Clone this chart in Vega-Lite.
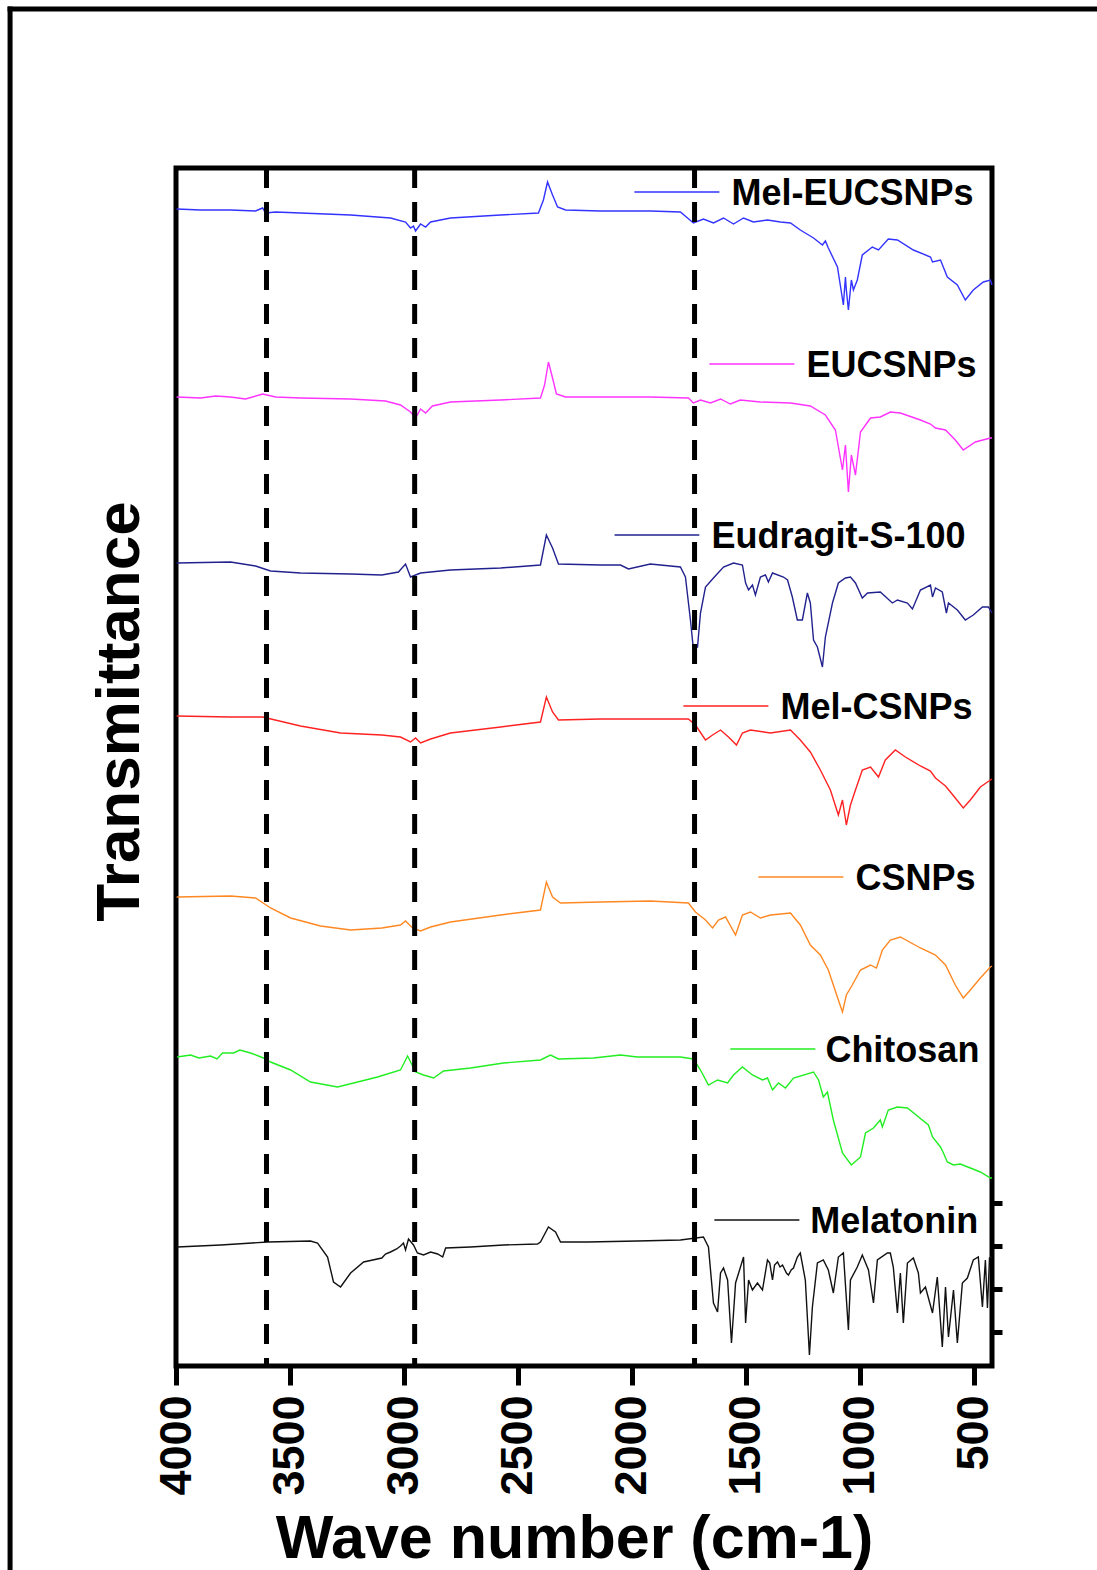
{
"$schema": "https://vega.github.io/schema/vega-lite/v6.json",
"width": 816, "height": 1198,
"autosize": {"type": "none"},
"padding": {"left": 176, "top": 168, "right": 105, "bottom": 204},
"background": "white",
"config": {"view": {"stroke": "black", "strokeWidth": 5}, "font": "Liberation Sans"},
"datasets": {
"spectra": [
{"s":"Mel-EUCSNPs","w":3997,"t":115.4},{"s":"Mel-EUCSNPs","w":3892,"t":115.3},{"s":"Mel-EUCSNPs","w":3761,"t":115.3},{"s":"Mel-EUCSNPs","w":3651,"t":115.2},{"s":"Mel-EUCSNPs","w":3620,"t":115.5},{"s":"Mel-EUCSNPs","w":3607,"t":115.0},{"s":"Mel-EUCSNPs","w":3563,"t":115.1},{"s":"Mel-EUCSNPs","w":3454,"t":115.0},{"s":"Mel-EUCSNPs","w":3234,"t":114.8},{"s":"Mel-EUCSNPs","w":3059,"t":114.5},{"s":"Mel-EUCSNPs","w":2993,"t":114.1},{"s":"Mel-EUCSNPs","w":2971,"t":113.5},{"s":"Mel-EUCSNPs","w":2958,"t":113.7},{"s":"Mel-EUCSNPs","w":2949,"t":113.2},{"s":"Mel-EUCSNPs","w":2927,"t":113.9},{"s":"Mel-EUCSNPs","w":2905,"t":113.6},{"s":"Mel-EUCSNPs","w":2883,"t":114.1},{"s":"Mel-EUCSNPs","w":2796,"t":114.5},{"s":"Mel-EUCSNPs","w":2576,"t":114.8},{"s":"Mel-EUCSNPs","w":2410,"t":115.0},{"s":"Mel-EUCSNPs","w":2388,"t":116.3},{"s":"Mel-EUCSNPs","w":2370,"t":118.1},{"s":"Mel-EUCSNPs","w":2348,"t":116.8},{"s":"Mel-EUCSNPs","w":2326,"t":115.6},{"s":"Mel-EUCSNPs","w":2291,"t":115.3},{"s":"Mel-EUCSNPs","w":2138,"t":115.2},{"s":"Mel-EUCSNPs","w":1919,"t":115.2},{"s":"Mel-EUCSNPs","w":1787,"t":115.1},{"s":"Mel-EUCSNPs","w":1730,"t":114.0},{"s":"Mel-EUCSNPs","w":1686,"t":114.4},{"s":"Mel-EUCSNPs","w":1642,"t":114.0},{"s":"Mel-EUCSNPs","w":1598,"t":114.5},{"s":"Mel-EUCSNPs","w":1554,"t":113.9},{"s":"Mel-EUCSNPs","w":1510,"t":114.5},{"s":"Mel-EUCSNPs","w":1467,"t":114.1},{"s":"Mel-EUCSNPs","w":1405,"t":114.3},{"s":"Mel-EUCSNPs","w":1348,"t":114.1},{"s":"Mel-EUCSNPs","w":1304,"t":114.0},{"s":"Mel-EUCSNPs","w":1261,"t":113.3},{"s":"Mel-EUCSNPs","w":1203,"t":112.5},{"s":"Mel-EUCSNPs","w":1164,"t":111.8},{"s":"Mel-EUCSNPs","w":1151,"t":112.2},{"s":"Mel-EUCSNPs","w":1138,"t":111.5},{"s":"Mel-EUCSNPs","w":1098,"t":109.6},{"s":"Mel-EUCSNPs","w":1072,"t":105.8},{"s":"Mel-EUCSNPs","w":1063,"t":108.6},{"s":"Mel-EUCSNPs","w":1059,"t":107.3},{"s":"Mel-EUCSNPs","w":1050,"t":105.3},{"s":"Mel-EUCSNPs","w":1037,"t":108.3},{"s":"Mel-EUCSNPs","w":1028,"t":107.3},{"s":"Mel-EUCSNPs","w":1011,"t":108.3},{"s":"Mel-EUCSNPs","w":989,"t":110.8},{"s":"Mel-EUCSNPs","w":945,"t":111.6},{"s":"Mel-EUCSNPs","w":918,"t":111.3},{"s":"Mel-EUCSNPs","w":875,"t":112.4},{"s":"Mel-EUCSNPs","w":835,"t":112.3},{"s":"Mel-EUCSNPs","w":765,"t":111.3},{"s":"Mel-EUCSNPs","w":690,"t":110.6},{"s":"Mel-EUCSNPs","w":681,"t":110.1},{"s":"Mel-EUCSNPs","w":646,"t":110.3},{"s":"Mel-EUCSNPs","w":616,"t":108.6},{"s":"Mel-EUCSNPs","w":572,"t":107.8},{"s":"Mel-EUCSNPs","w":537,"t":106.3},{"s":"Mel-EUCSNPs","w":502,"t":107.3},{"s":"Mel-EUCSNPs","w":458,"t":108.1},{"s":"Mel-EUCSNPs","w":427,"t":108.3},{"s":"Mel-EUCSNPs","w":420,"t":107.8},
{"s":"EUCSNPs","w":3997,"t":96.6},{"s":"EUCSNPs","w":3892,"t":96.5},{"s":"EUCSNPs","w":3826,"t":96.7},{"s":"EUCSNPs","w":3761,"t":96.6},{"s":"EUCSNPs","w":3695,"t":96.4},{"s":"EUCSNPs","w":3620,"t":96.9},{"s":"EUCSNPs","w":3563,"t":96.6},{"s":"EUCSNPs","w":3454,"t":96.5},{"s":"EUCSNPs","w":3234,"t":96.4},{"s":"EUCSNPs","w":3081,"t":96.2},{"s":"EUCSNPs","w":3015,"t":95.8},{"s":"EUCSNPs","w":2971,"t":95.1},{"s":"EUCSNPs","w":2949,"t":94.5},{"s":"EUCSNPs","w":2927,"t":95.4},{"s":"EUCSNPs","w":2905,"t":95.0},{"s":"EUCSNPs","w":2875,"t":95.7},{"s":"EUCSNPs","w":2796,"t":96.1},{"s":"EUCSNPs","w":2576,"t":96.3},{"s":"EUCSNPs","w":2401,"t":96.5},{"s":"EUCSNPs","w":2383,"t":97.8},{"s":"EUCSNPs","w":2366,"t":100.1},{"s":"EUCSNPs","w":2348,"t":98.5},{"s":"EUCSNPs","w":2331,"t":96.9},{"s":"EUCSNPs","w":2291,"t":96.6},{"s":"EUCSNPs","w":2138,"t":96.6},{"s":"EUCSNPs","w":1919,"t":96.6},{"s":"EUCSNPs","w":1752,"t":96.5},{"s":"EUCSNPs","w":1730,"t":96.0},{"s":"EUCSNPs","w":1699,"t":96.3},{"s":"EUCSNPs","w":1655,"t":96.0},{"s":"EUCSNPs","w":1611,"t":96.4},{"s":"EUCSNPs","w":1568,"t":95.9},{"s":"EUCSNPs","w":1524,"t":96.3},{"s":"EUCSNPs","w":1436,"t":96.1},{"s":"EUCSNPs","w":1304,"t":96.0},{"s":"EUCSNPs","w":1217,"t":95.7},{"s":"EUCSNPs","w":1151,"t":94.8},{"s":"EUCSNPs","w":1107,"t":93.3},{"s":"EUCSNPs","w":1076,"t":89.3},{"s":"EUCSNPs","w":1063,"t":91.8},{"s":"EUCSNPs","w":1050,"t":87.1},{"s":"EUCSNPs","w":1037,"t":90.8},{"s":"EUCSNPs","w":1019,"t":88.8},{"s":"EUCSNPs","w":997,"t":93.1},{"s":"EUCSNPs","w":953,"t":94.5},{"s":"EUCSNPs","w":910,"t":94.6},{"s":"EUCSNPs","w":866,"t":95.1},{"s":"EUCSNPs","w":822,"t":95.0},{"s":"EUCSNPs","w":734,"t":94.3},{"s":"EUCSNPs","w":690,"t":93.9},{"s":"EUCSNPs","w":668,"t":93.5},{"s":"EUCSNPs","w":624,"t":93.3},{"s":"EUCSNPs","w":581,"t":92.3},{"s":"EUCSNPs","w":546,"t":91.3},{"s":"EUCSNPs","w":493,"t":92.1},{"s":"EUCSNPs","w":427,"t":92.5},{"s":"EUCSNPs","w":420,"t":92.5},
{"s":"Eudragit-S-100","w":3997,"t":80.0},{"s":"Eudragit-S-100","w":3761,"t":80.1},{"s":"Eudragit-S-100","w":3651,"t":79.7},{"s":"Eudragit-S-100","w":3585,"t":79.2},{"s":"Eudragit-S-100","w":3454,"t":79.0},{"s":"Eudragit-S-100","w":3234,"t":78.9},{"s":"Eudragit-S-100","w":3097,"t":78.8},{"s":"Eudragit-S-100","w":3024,"t":79.1},{"s":"Eudragit-S-100","w":2993,"t":79.9},{"s":"Eudragit-S-100","w":2971,"t":78.6},{"s":"Eudragit-S-100","w":2927,"t":79.0},{"s":"Eudragit-S-100","w":2796,"t":79.3},{"s":"Eudragit-S-100","w":2576,"t":79.5},{"s":"Eudragit-S-100","w":2401,"t":79.8},{"s":"Eudragit-S-100","w":2375,"t":82.8},{"s":"Eudragit-S-100","w":2348,"t":81.5},{"s":"Eudragit-S-100","w":2322,"t":79.9},{"s":"Eudragit-S-100","w":2138,"t":79.8},{"s":"Eudragit-S-100","w":2050,"t":79.8},{"s":"Eudragit-S-100","w":2015,"t":79.4},{"s":"Eudragit-S-100","w":1919,"t":79.9},{"s":"Eudragit-S-100","w":1787,"t":79.6},{"s":"Eudragit-S-100","w":1765,"t":78.6},{"s":"Eudragit-S-100","w":1743,"t":74.3},{"s":"Eudragit-S-100","w":1731,"t":71.6},{"s":"Eudragit-S-100","w":1712,"t":71.6},{"s":"Eudragit-S-100","w":1699,"t":75.0},{"s":"Eudragit-S-100","w":1677,"t":77.6},{"s":"Eudragit-S-100","w":1642,"t":78.5},{"s":"Eudragit-S-100","w":1598,"t":79.6},{"s":"Eudragit-S-100","w":1554,"t":80.0},{"s":"Eudragit-S-100","w":1515,"t":79.8},{"s":"Eudragit-S-100","w":1501,"t":78.0},{"s":"Eudragit-S-100","w":1488,"t":77.3},{"s":"Eudragit-S-100","w":1471,"t":77.8},{"s":"Eudragit-S-100","w":1458,"t":76.8},{"s":"Eudragit-S-100","w":1436,"t":78.6},{"s":"Eudragit-S-100","w":1414,"t":78.8},{"s":"Eudragit-S-100","w":1401,"t":78.1},{"s":"Eudragit-S-100","w":1383,"t":79.0},{"s":"Eudragit-S-100","w":1335,"t":78.6},{"s":"Eudragit-S-100","w":1317,"t":78.3},{"s":"Eudragit-S-100","w":1296,"t":76.6},{"s":"Eudragit-S-100","w":1274,"t":74.3},{"s":"Eudragit-S-100","w":1252,"t":74.3},{"s":"Eudragit-S-100","w":1230,"t":77.0},{"s":"Eudragit-S-100","w":1217,"t":76.0},{"s":"Eudragit-S-100","w":1203,"t":72.3},{"s":"Eudragit-S-100","w":1186,"t":71.6},{"s":"Eudragit-S-100","w":1164,"t":69.6},{"s":"Eudragit-S-100","w":1151,"t":72.6},{"s":"Eudragit-S-100","w":1120,"t":76.0},{"s":"Eudragit-S-100","w":1094,"t":78.0},{"s":"Eudragit-S-100","w":1063,"t":78.5},{"s":"Eudragit-S-100","w":1041,"t":78.6},{"s":"Eudragit-S-100","w":1019,"t":78.0},{"s":"Eudragit-S-100","w":989,"t":76.5},{"s":"Eudragit-S-100","w":966,"t":77.0},{"s":"Eudragit-S-100","w":910,"t":77.1},{"s":"Eudragit-S-100","w":857,"t":76.0},{"s":"Eudragit-S-100","w":835,"t":76.3},{"s":"Eudragit-S-100","w":791,"t":76.0},{"s":"Eudragit-S-100","w":769,"t":75.4},{"s":"Eudragit-S-100","w":734,"t":77.3},{"s":"Eudragit-S-100","w":690,"t":77.8},{"s":"Eudragit-S-100","w":681,"t":76.6},{"s":"Eudragit-S-100","w":668,"t":77.5},{"s":"Eudragit-S-100","w":638,"t":77.1},{"s":"Eudragit-S-100","w":620,"t":75.0},{"s":"Eudragit-S-100","w":611,"t":76.0},{"s":"Eudragit-S-100","w":572,"t":75.3},{"s":"Eudragit-S-100","w":537,"t":74.3},{"s":"Eudragit-S-100","w":502,"t":74.8},{"s":"Eudragit-S-100","w":462,"t":75.6},{"s":"Eudragit-S-100","w":436,"t":75.6},{"s":"Eudragit-S-100","w":420,"t":75.0},
{"s":"Mel-CSNPs","w":3997,"t":64.7},{"s":"Mel-CSNPs","w":3761,"t":64.6},{"s":"Mel-CSNPs","w":3620,"t":64.6},{"s":"Mel-CSNPs","w":3454,"t":63.7},{"s":"Mel-CSNPs","w":3278,"t":63.0},{"s":"Mel-CSNPs","w":3097,"t":62.8},{"s":"Mel-CSNPs","w":3015,"t":62.6},{"s":"Mel-CSNPs","w":2971,"t":62.1},{"s":"Mel-CSNPs","w":2949,"t":62.5},{"s":"Mel-CSNPs","w":2927,"t":62.0},{"s":"Mel-CSNPs","w":2883,"t":62.4},{"s":"Mel-CSNPs","w":2796,"t":63.0},{"s":"Mel-CSNPs","w":2576,"t":63.6},{"s":"Mel-CSNPs","w":2401,"t":64.1},{"s":"Mel-CSNPs","w":2375,"t":66.6},{"s":"Mel-CSNPs","w":2348,"t":65.1},{"s":"Mel-CSNPs","w":2322,"t":64.3},{"s":"Mel-CSNPs","w":2138,"t":64.4},{"s":"Mel-CSNPs","w":1919,"t":64.4},{"s":"Mel-CSNPs","w":1752,"t":64.4},{"s":"Mel-CSNPs","w":1721,"t":63.8},{"s":"Mel-CSNPs","w":1677,"t":62.3},{"s":"Mel-CSNPs","w":1646,"t":62.8},{"s":"Mel-CSNPs","w":1611,"t":63.3},{"s":"Mel-CSNPs","w":1576,"t":62.6},{"s":"Mel-CSNPs","w":1541,"t":61.8},{"s":"Mel-CSNPs","w":1515,"t":63.0},{"s":"Mel-CSNPs","w":1480,"t":63.3},{"s":"Mel-CSNPs","w":1392,"t":63.0},{"s":"Mel-CSNPs","w":1304,"t":63.3},{"s":"Mel-CSNPs","w":1261,"t":62.3},{"s":"Mel-CSNPs","w":1217,"t":61.1},{"s":"Mel-CSNPs","w":1173,"t":59.3},{"s":"Mel-CSNPs","w":1129,"t":57.3},{"s":"Mel-CSNPs","w":1094,"t":54.8},{"s":"Mel-CSNPs","w":1076,"t":56.3},{"s":"Mel-CSNPs","w":1059,"t":53.8},{"s":"Mel-CSNPs","w":1041,"t":55.8},{"s":"Mel-CSNPs","w":1019,"t":57.3},{"s":"Mel-CSNPs","w":989,"t":59.3},{"s":"Mel-CSNPs","w":953,"t":59.6},{"s":"Mel-CSNPs","w":918,"t":58.6},{"s":"Mel-CSNPs","w":888,"t":60.3},{"s":"Mel-CSNPs","w":844,"t":61.3},{"s":"Mel-CSNPs","w":800,"t":60.6},{"s":"Mel-CSNPs","w":734,"t":59.7},{"s":"Mel-CSNPs","w":690,"t":59.2},{"s":"Mel-CSNPs","w":668,"t":58.5},{"s":"Mel-CSNPs","w":646,"t":58.1},{"s":"Mel-CSNPs","w":624,"t":57.7},{"s":"Mel-CSNPs","w":581,"t":56.5},{"s":"Mel-CSNPs","w":546,"t":55.5},{"s":"Mel-CSNPs","w":515,"t":56.3},{"s":"Mel-CSNPs","w":471,"t":57.6},{"s":"Mel-CSNPs","w":427,"t":58.3},{"s":"Mel-CSNPs","w":420,"t":58.4},
{"s":"CSNPs","w":3997,"t":46.6},{"s":"CSNPs","w":3761,"t":46.7},{"s":"CSNPs","w":3651,"t":46.5},{"s":"CSNPs","w":3585,"t":45.5},{"s":"CSNPs","w":3497,"t":44.5},{"s":"CSNPs","w":3366,"t":43.7},{"s":"CSNPs","w":3234,"t":43.3},{"s":"CSNPs","w":3097,"t":43.5},{"s":"CSNPs","w":3015,"t":43.8},{"s":"CSNPs","w":2993,"t":44.2},{"s":"CSNPs","w":2962,"t":43.5},{"s":"CSNPs","w":2927,"t":43.2},{"s":"CSNPs","w":2883,"t":43.6},{"s":"CSNPs","w":2796,"t":44.1},{"s":"CSNPs","w":2576,"t":44.8},{"s":"CSNPs","w":2401,"t":45.3},{"s":"CSNPs","w":2375,"t":48.1},{"s":"CSNPs","w":2348,"t":46.6},{"s":"CSNPs","w":2313,"t":46.0},{"s":"CSNPs","w":2138,"t":46.1},{"s":"CSNPs","w":1919,"t":46.2},{"s":"CSNPs","w":1752,"t":46.0},{"s":"CSNPs","w":1721,"t":45.1},{"s":"CSNPs","w":1677,"t":44.3},{"s":"CSNPs","w":1646,"t":43.5},{"s":"CSNPs","w":1620,"t":44.3},{"s":"CSNPs","w":1589,"t":44.6},{"s":"CSNPs","w":1545,"t":42.8},{"s":"CSNPs","w":1515,"t":44.8},{"s":"CSNPs","w":1480,"t":45.1},{"s":"CSNPs","w":1436,"t":44.5},{"s":"CSNPs","w":1392,"t":44.8},{"s":"CSNPs","w":1304,"t":45.0},{"s":"CSNPs","w":1261,"t":43.8},{"s":"CSNPs","w":1217,"t":41.8},{"s":"CSNPs","w":1173,"t":40.8},{"s":"CSNPs","w":1138,"t":39.3},{"s":"CSNPs","w":1094,"t":36.3},{"s":"CSNPs","w":1076,"t":35.1},{"s":"CSNPs","w":1059,"t":36.8},{"s":"CSNPs","w":1033,"t":37.8},{"s":"CSNPs","w":997,"t":39.3},{"s":"CSNPs","w":953,"t":39.8},{"s":"CSNPs","w":927,"t":39.5},{"s":"CSNPs","w":901,"t":41.3},{"s":"CSNPs","w":866,"t":42.3},{"s":"CSNPs","w":822,"t":42.6},{"s":"CSNPs","w":734,"t":41.5},{"s":"CSNPs","w":668,"t":40.8},{"s":"CSNPs","w":624,"t":39.8},{"s":"CSNPs","w":581,"t":37.8},{"s":"CSNPs","w":546,"t":36.5},{"s":"CSNPs","w":515,"t":37.3},{"s":"CSNPs","w":471,"t":38.5},{"s":"CSNPs","w":427,"t":39.6},{"s":"CSNPs","w":420,"t":39.7},
{"s":"Chitosan","w":3995,"t":30.6},{"s":"Chitosan","w":3936,"t":30.8},{"s":"Chitosan","w":3900,"t":30.5},{"s":"Chitosan","w":3848,"t":30.7},{"s":"Chitosan","w":3820,"t":30.4},{"s":"Chitosan","w":3796,"t":31.0},{"s":"Chitosan","w":3747,"t":31.0},{"s":"Chitosan","w":3720,"t":31.3},{"s":"Chitosan","w":3673,"t":31.0},{"s":"Chitosan","w":3616,"t":30.5},{"s":"Chitosan","w":3585,"t":30.1},{"s":"Chitosan","w":3497,"t":29.3},{"s":"Chitosan","w":3410,"t":28.1},{"s":"Chitosan","w":3291,"t":27.6},{"s":"Chitosan","w":3203,"t":28.1},{"s":"Chitosan","w":3116,"t":28.6},{"s":"Chitosan","w":3015,"t":29.3},{"s":"Chitosan","w":2984,"t":30.7},{"s":"Chitosan","w":2949,"t":29.1},{"s":"Chitosan","w":2914,"t":28.8},{"s":"Chitosan","w":2870,"t":28.5},{"s":"Chitosan","w":2826,"t":29.2},{"s":"Chitosan","w":2708,"t":29.5},{"s":"Chitosan","w":2563,"t":30.0},{"s":"Chitosan","w":2401,"t":30.3},{"s":"Chitosan","w":2357,"t":30.8},{"s":"Chitosan","w":2322,"t":30.4},{"s":"Chitosan","w":2168,"t":30.5},{"s":"Chitosan","w":2050,"t":30.8},{"s":"Chitosan","w":1976,"t":30.6},{"s":"Chitosan","w":1787,"t":30.6},{"s":"Chitosan","w":1730,"t":30.4},{"s":"Chitosan","w":1699,"t":29.3},{"s":"Chitosan","w":1664,"t":27.8},{"s":"Chitosan","w":1624,"t":28.3},{"s":"Chitosan","w":1580,"t":28.0},{"s":"Chitosan","w":1554,"t":28.8},{"s":"Chitosan","w":1515,"t":29.6},{"s":"Chitosan","w":1471,"t":28.8},{"s":"Chitosan","w":1427,"t":28.3},{"s":"Chitosan","w":1405,"t":28.5},{"s":"Chitosan","w":1383,"t":27.3},{"s":"Chitosan","w":1357,"t":28.0},{"s":"Chitosan","w":1326,"t":27.5},{"s":"Chitosan","w":1291,"t":28.5},{"s":"Chitosan","w":1203,"t":29.1},{"s":"Chitosan","w":1181,"t":28.3},{"s":"Chitosan","w":1160,"t":26.6},{"s":"Chitosan","w":1142,"t":27.1},{"s":"Chitosan","w":1116,"t":24.3},{"s":"Chitosan","w":1076,"t":21.0},{"s":"Chitosan","w":1037,"t":19.8},{"s":"Chitosan","w":997,"t":20.6},{"s":"Chitosan","w":975,"t":23.0},{"s":"Chitosan","w":940,"t":23.5},{"s":"Chitosan","w":910,"t":24.3},{"s":"Chitosan","w":901,"t":23.6},{"s":"Chitosan","w":875,"t":25.3},{"s":"Chitosan","w":835,"t":25.6},{"s":"Chitosan","w":791,"t":25.5},{"s":"Chitosan","w":699,"t":23.8},{"s":"Chitosan","w":681,"t":22.6},{"s":"Chitosan","w":646,"t":21.6},{"s":"Chitosan","w":633,"t":21.0},{"s":"Chitosan","w":616,"t":20.1},{"s":"Chitosan","w":589,"t":19.8},{"s":"Chitosan","w":559,"t":19.9},{"s":"Chitosan","w":515,"t":19.5},{"s":"Chitosan","w":471,"t":19.1},{"s":"Chitosan","w":427,"t":18.5},{"s":"Chitosan","w":420,"t":18.5},
{"s":"Melatonin","w":3995,"t":11.6},{"s":"Melatonin","w":3804,"t":11.8},{"s":"Melatonin","w":3598,"t":12.1},{"s":"Melatonin","w":3410,"t":12.2},{"s":"Melatonin","w":3379,"t":12.0},{"s":"Melatonin","w":3335,"t":10.6},{"s":"Melatonin","w":3309,"t":8.1},{"s":"Melatonin","w":3278,"t":7.6},{"s":"Melatonin","w":3234,"t":9.0},{"s":"Melatonin","w":3177,"t":10.1},{"s":"Melatonin","w":3097,"t":10.5},{"s":"Melatonin","w":3081,"t":10.9},{"s":"Melatonin","w":3059,"t":11.1},{"s":"Melatonin","w":3032,"t":11.4},{"s":"Melatonin","w":3015,"t":11.7},{"s":"Melatonin","w":3002,"t":12.0},{"s":"Melatonin","w":2993,"t":11.3},{"s":"Melatonin","w":2980,"t":12.4},{"s":"Melatonin","w":2958,"t":11.8},{"s":"Melatonin","w":2941,"t":11.0},{"s":"Melatonin","w":2914,"t":10.8},{"s":"Melatonin","w":2883,"t":11.1},{"s":"Melatonin","w":2852,"t":10.9},{"s":"Melatonin","w":2830,"t":10.6},{"s":"Melatonin","w":2817,"t":11.5},{"s":"Melatonin","w":2708,"t":11.6},{"s":"Melatonin","w":2563,"t":11.8},{"s":"Melatonin","w":2414,"t":11.9},{"s":"Melatonin","w":2401,"t":12.1},{"s":"Melatonin","w":2366,"t":13.6},{"s":"Melatonin","w":2335,"t":13.1},{"s":"Melatonin","w":2313,"t":12.1},{"s":"Melatonin","w":2195,"t":12.1},{"s":"Melatonin","w":1976,"t":12.2},{"s":"Melatonin","w":1787,"t":12.3},{"s":"Melatonin","w":1686,"t":12.6},{"s":"Melatonin","w":1664,"t":11.6},{"s":"Melatonin","w":1642,"t":6.0},{"s":"Melatonin","w":1624,"t":5.1},{"s":"Melatonin","w":1611,"t":9.0},{"s":"Melatonin","w":1598,"t":9.5},{"s":"Melatonin","w":1580,"t":8.3},{"s":"Melatonin","w":1563,"t":2.0},{"s":"Melatonin","w":1545,"t":8.0},{"s":"Melatonin","w":1510,"t":10.6},{"s":"Melatonin","w":1501,"t":4.0},{"s":"Melatonin","w":1488,"t":8.3},{"s":"Melatonin","w":1471,"t":7.3},{"s":"Melatonin","w":1449,"t":8.0},{"s":"Melatonin","w":1427,"t":7.3},{"s":"Melatonin","w":1405,"t":10.3},{"s":"Melatonin","w":1395,"t":10.0},{"s":"Melatonin","w":1383,"t":8.3},{"s":"Melatonin","w":1374,"t":9.8},{"s":"Melatonin","w":1361,"t":10.1},{"s":"Melatonin","w":1350,"t":9.6},{"s":"Melatonin","w":1339,"t":9.8},{"s":"Melatonin","w":1322,"t":9.0},{"s":"Melatonin","w":1313,"t":8.8},{"s":"Melatonin","w":1301,"t":9.3},{"s":"Melatonin","w":1291,"t":9.5},{"s":"Melatonin","w":1274,"t":10.6},{"s":"Melatonin","w":1261,"t":11.0},{"s":"Melatonin","w":1239,"t":8.3},{"s":"Melatonin","w":1221,"t":0.8},{"s":"Melatonin","w":1208,"t":5.6},{"s":"Melatonin","w":1186,"t":10.0},{"s":"Melatonin","w":1160,"t":10.3},{"s":"Melatonin","w":1138,"t":9.3},{"s":"Melatonin","w":1116,"t":7.0},{"s":"Melatonin","w":1094,"t":10.6},{"s":"Melatonin","w":1072,"t":11.0},{"s":"Melatonin","w":1050,"t":3.3},{"s":"Melatonin","w":1041,"t":8.3},{"s":"Melatonin","w":1011,"t":9.6},{"s":"Melatonin","w":989,"t":10.8},{"s":"Melatonin","w":962,"t":9.3},{"s":"Melatonin","w":940,"t":6.0},{"s":"Melatonin","w":923,"t":10.3},{"s":"Melatonin","w":879,"t":11.0},{"s":"Melatonin","w":866,"t":11.0},{"s":"Melatonin","w":853,"t":9.6},{"s":"Melatonin","w":835,"t":5.0},{"s":"Melatonin","w":822,"t":9.0},{"s":"Melatonin","w":809,"t":4.0},{"s":"Melatonin","w":791,"t":10.0},{"s":"Melatonin","w":765,"t":10.5},{"s":"Melatonin","w":743,"t":9.0},{"s":"Melatonin","w":734,"t":7.0},{"s":"Melatonin","w":712,"t":7.6},{"s":"Melatonin","w":681,"t":5.0},{"s":"Melatonin","w":660,"t":8.6},{"s":"Melatonin","w":638,"t":1.6},{"s":"Melatonin","w":624,"t":7.6},{"s":"Melatonin","w":611,"t":2.6},{"s":"Melatonin","w":589,"t":7.3},{"s":"Melatonin","w":572,"t":2.0},{"s":"Melatonin","w":550,"t":8.0},{"s":"Melatonin","w":528,"t":8.5},{"s":"Melatonin","w":502,"t":10.3},{"s":"Melatonin","w":480,"t":10.6},{"s":"Melatonin","w":462,"t":5.6},{"s":"Melatonin","w":449,"t":10.3},{"s":"Melatonin","w":440,"t":5.5},{"s":"Melatonin","w":431,"t":10.5},{"s":"Melatonin","w":420,"t":10.6}
],
"labels": [
{"s":"Mel-EUCSNPs","w":1989,"w2":1616,"tw":1563,"t":117.1},
{"s":"EUCSNPs","w":1660,"w2":1287,"tw":1234,"t":99.9},
{"s":"Eudragit-S-100","w":2076,"w2":1704,"tw":1651,"t":82.8},
{"s":"Mel-CSNPs","w":1774,"w2":1401,"tw":1348,"t":65.7},
{"s":"CSNPs","w":1445,"w2":1072,"tw":1019,"t":48.6},
{"s":"Chitosan","w":1568,"w2":1195,"tw":1151,"t":31.4},
{"s":"Melatonin","w":1638,"w2":1265,"tw":1217,"t":14.3}
],
"peaks": [{"w":3603},{"w":2953},{"w":1725}]
},
"resolve": {"axis": {"x": "independent", "y": "independent"}},
"layer": [
{"data": {"name": "spectra"},
 "mark": {"type": "line", "strokeWidth": 1.4},
 "encoding": {
  "x": {"field": "w", "type": "quantitative", "scale": {"domain": [4000, 420], "nice": false, "zero": false},
        "axis": {"values": [4000,3500,3000,2500,2000,1500,1000,500], "format": "d", "labelAngle": 270, "labelAlign": "right", "labelBaseline": "middle",
                 "labelFontSize": 45, "labelFontWeight": "bold", "labelColor": "black", "labelFont": "Liberation Sans", "labelPadding": 10, "labelFlush": false, "labelOverlap": false, "labelBound": false,
                 "tickSize": 19, "tickWidth": 5, "tickColor": "black", "domain": false, "grid": false,
                 "title": "Wave number (cm-1)", "titleFontSize": 61, "titleFontWeight": "bold", "titleColor": "black", "titleFont": "Liberation Sans",
                 "titleX": 398, "titleY": 191, "titleBaseline": "alphabetic", "titleAlign": "center"}},
  "y": {"field": "t", "type": "quantitative", "scale": {"domain": [-0.3, 119.5], "nice": false, "zero": false},
        "axis": {"labels": false, "ticks": false, "domain": false, "grid": false,
                 "title": "Transmittance", "titleFontSize": 62, "titleFontWeight": "bold", "titleColor": "black", "titleFont": "Liberation Sans",
                 "titleAngle": 270, "titleX": -38, "titleY": 543, "titleAlign": "center", "titleBaseline": "alphabetic"}},
  "color": {"field": "s", "type": "nominal", "legend": null,
            "scale": {"domain": ["Mel-EUCSNPs","EUCSNPs","Eudragit-S-100","Mel-CSNPs","CSNPs","Chitosan","Melatonin"],
                      "range": ["#3333FF","#FF33FF","#22228F","#FF2222","#FF8822","#22EE22","#111111"]}}
 }},
{"data": {"name": "peaks"},
 "mark": {"type": "rule", "color": "black", "strokeWidth": 5, "strokeDash": [20, 14]},
 "encoding": {"x": {"field": "w", "type": "quantitative", "axis": null}}},
{"data": {"name": "labels"},
 "mark": {"type": "rule", "strokeWidth": 1.5},
 "encoding": {
  "x": {"field": "w", "type": "quantitative", "axis": null},
  "x2": {"field": "w2"},
  "y": {"field": "t", "type": "quantitative", "axis": null},
  "color": {"field": "s", "type": "nominal", "legend": null}}},
{"data": {"name": "labels"},
 "mark": {"type": "text", "align": "left", "baseline": "middle", "dy": 2, "fontSize": 36, "fontWeight": "bold", "font": "Liberation Sans", "color": "black"},
 "encoding": {
  "x": {"field": "tw", "type": "quantitative", "axis": null},
  "y": {"field": "t", "type": "quantitative",
        "axis": {"orient": "right", "values": [3.1, 7.4, 11.7, 16.0], "labels": false, "ticks": true, "tickSize": 10, "tickWidth": 5, "tickColor": "black", "domain": false, "grid": false, "title": null}},
  "text": {"field": "s"}}},
{"data": {"values": [{}]},
 "mark": {"type": "rule", "color": "black", "strokeWidth": 5, "strokeCap": "square"},
 "encoding": {"x": {"datum": 4728, "type": "quantitative", "axis": null}, "y": {"datum": 135.4, "type": "quantitative", "axis": null}, "y2": {"datum": -30}}},
{"data": {"values": [{}]},
 "mark": {"type": "rule", "color": "black", "strokeWidth": 5, "strokeCap": "square"},
 "encoding": {"x": {"datum": 4728, "type": "quantitative", "axis": null}, "x2": {"datum": -300}, "y": {"datum": 135.4, "type": "quantitative", "axis": null}}}
]
}
